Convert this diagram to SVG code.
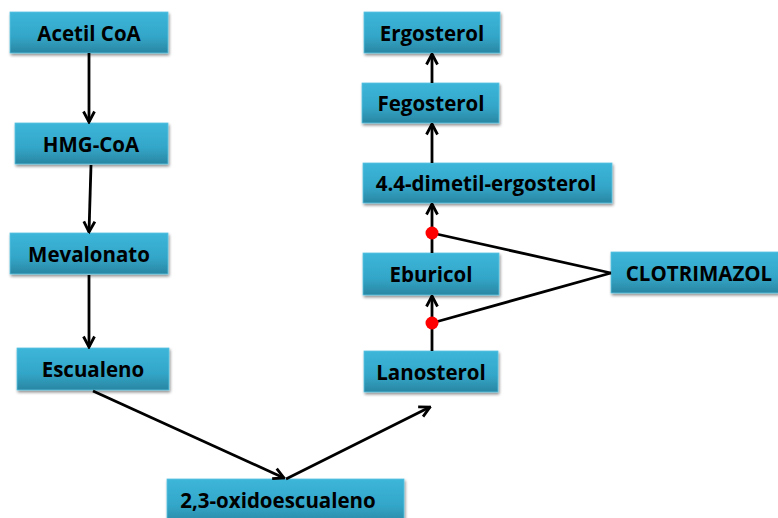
<svg xmlns="http://www.w3.org/2000/svg" width="778" height="518" viewBox="0 0 778 518">
<defs>
<linearGradient id="g" x1="0" y1="0" x2="0" y2="1">
<stop offset="0" stop-color="#3cb6da"/>
<stop offset="0.6" stop-color="#33a6c8"/>
<stop offset="1" stop-color="#2a86a2"/>
</linearGradient>
<filter id="sh" x="-10%" y="-20%" width="130%" height="150%">
<feGaussianBlur in="SourceAlpha" stdDeviation="1.5"/>
<feOffset dx="1" dy="2" result="b"/>
<feComponentTransfer><feFuncA type="linear" slope="0.45"/></feComponentTransfer>
<feMerge><feMergeNode/><feMergeNode in="SourceGraphic"/></feMerge>
</filter>
<marker id="ah" viewBox="0 0 14 14" refX="12.5" refY="7" markerWidth="14" markerHeight="14" markerUnits="userSpaceOnUse" orient="auto">
<path d="M2,1.5 L12.5,7 L2,12.5" fill="none" stroke="#000" stroke-width="2.8"/>
</marker>
</defs>
<style>
.box{fill:url(#g);stroke:#5cc3e0;stroke-width:0.8;filter:url(#sh)}
.t{font-family:"Open Sans","Liberation Sans",sans-serif;font-weight:bold;font-size:20.5px;fill:#000;text-anchor:middle;dominant-baseline:central}
.c{stroke:#000;stroke-width:2.8;fill:none}
.a{marker-end:url(#ah)}
</style>
<rect width="778" height="518" fill="#fff"/>
<g id="acetil"><rect class="box" x="10" y="12" width="158" height="41"/><text class="t" x="89" y="33">Acetil CoA</text></g>
<g id="hmg"><rect class="box" x="15" y="123" width="153" height="41"/><text class="t" x="91" y="144">HMG-CoA</text></g>
<g id="mevalonato"><rect class="box" x="10" y="233" width="158" height="41"/><text class="t" x="89" y="254">Mevalonato</text></g>
<g id="escualeno"><rect class="box" x="17" y="348" width="152" height="42"/><text class="t" x="93" y="369">Escualeno</text></g>
<g id="oxido"><rect class="box" x="167" y="479" width="237" height="45"/><text class="t" x="278" y="500">2,3-oxidoescualeno</text></g>
<g id="lanosterol"><rect class="box" x="364" y="351" width="134" height="41"/><text class="t" x="431" y="372">Lanosterol</text></g>
<g id="eburicol"><rect class="box" x="363" y="253" width="136" height="42"/><text class="t" x="431" y="274">Eburicol</text></g>
<g id="dimetil"><rect class="box" x="363" y="163" width="249" height="40"/><text class="t" x="486" y="183">4.4-dimetil-ergosterol</text></g>
<g id="fegosterol"><rect class="box" x="362" y="83" width="137" height="40"/><text class="t" x="431" y="103">Fegosterol</text></g>
<g id="ergosterol"><rect class="box" x="364" y="12" width="136" height="41"/><text class="t" x="432" y="33">Ergosterol</text></g>
<g id="clotrimazol"><rect class="box" x="611" y="252" width="168" height="41"/><text class="t" x="699" y="273">CLOTRIMAZOL</text></g>
<g id="connectors">
<line class="c a" x1="89" y1="53" x2="89" y2="122"/>
<line class="c a" x1="91" y1="165" x2="89" y2="232"/>
<line class="c a" x1="89" y1="275" x2="89" y2="347"/>
<line class="c a" x1="93" y1="391" x2="284" y2="478"/>
<line class="c a" x1="286" y1="479" x2="430" y2="407"/>
<line class="c a" x1="432" y1="351" x2="432" y2="296"/>
<line class="c a" x1="432" y1="253" x2="432" y2="204"/>
<line class="c a" x1="432" y1="163" x2="432" y2="124"/>
<line class="c a" x1="432" y1="83" x2="432" y2="54"/>
<line class="c" x1="432" y1="233" x2="611" y2="273"/>
<line class="c" x1="432" y1="323" x2="611" y2="273"/>
<circle cx="432" cy="233" r="6.5" fill="#ff0000"/>
<circle cx="432" cy="323" r="6.5" fill="#ff0000"/>
</g>
</svg>
